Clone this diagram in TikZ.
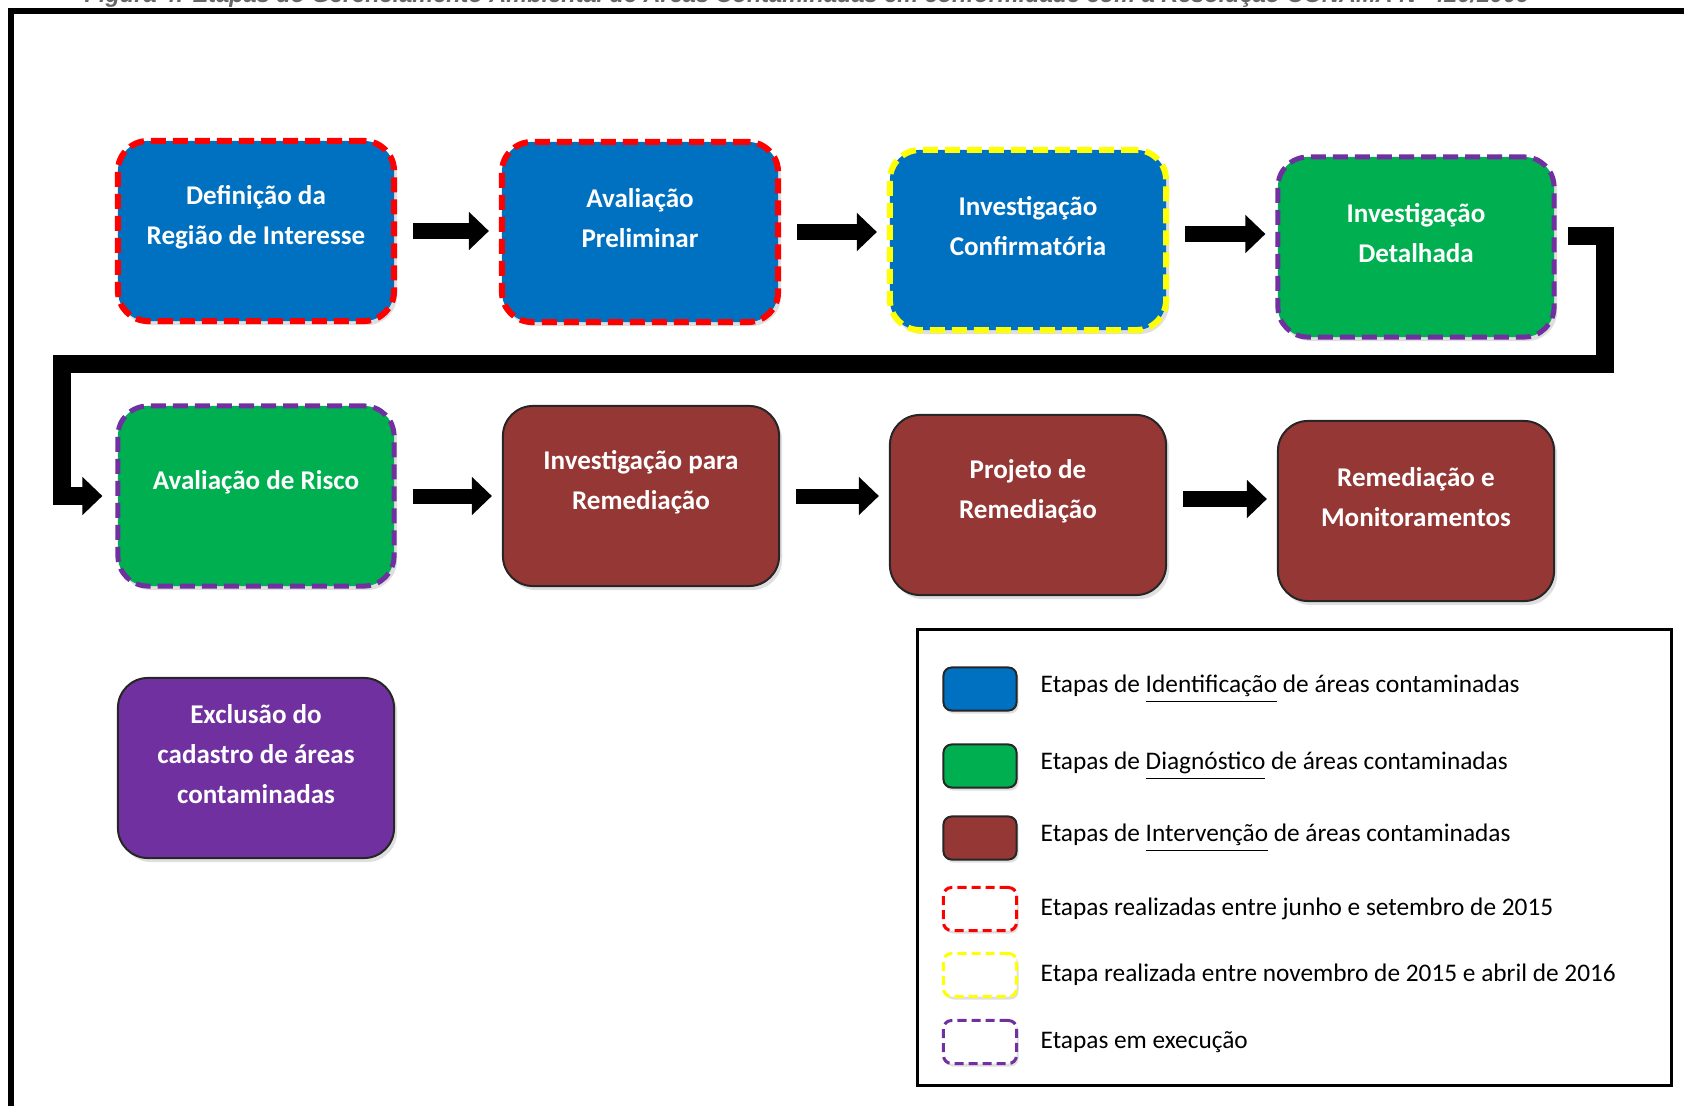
\documentclass[tikz,border=0pt]{standalone}
\usepackage{fontspec}
\setmainfont{Carlito}
\newfontfamily\titulofont{Liberation Sans}
\usetikzlibrary{arrows.meta,shadows}
\definecolor{azulid}{HTML}{0070C0}
\definecolor{verdediag}{HTML}{00B050}
\definecolor{vinhoint}{HTML}{953735}
\definecolor{roxoexc}{HTML}{7030A0}
\definecolor{vermelhoexe}{HTML}{FF0000}
\definecolor{amareloexe}{HTML}{FFFF00}
\definecolor{roxoexe}{HTML}{7030A0}

\begin{document}
\begin{tikzpicture}[x=0.01cm,y=-0.01cm,
    etapa/.style={rounded corners=0.3cm,minimum width=2.76cm,minimum height=1.8cm,
      drop shadow={opacity=0.25,shadow xshift=0.03cm,shadow yshift=-0.04cm}},
    etapatexto/.style={text=white,font=\bfseries\fontsize{7.7}{11.4}\selectfont,align=center,yshift=0.14cm},
    bordavermelha/.style={draw=vermelhoexe,line width=0.06cm,dash pattern=on 0.15cm off 0.07cm},
    bordaamarela/.style={draw=amareloexe,line width=0.06cm,dash pattern=on 0.15cm off 0.07cm},
    bordaroxa/.style={draw=roxoexe,line width=0.05cm,dash pattern=on 0.15cm off 0.07cm},
    bordafina/.style={draw=black!85,line width=0.02cm},
    seta/.style={line width=0.15cm,-{Triangle[length=0.2cm,width=0.37cm]},shorten <=0.16cm,shorten >=0.1cm},
    conector/.style={line width=0.18cm,-{Triangle[length=0.2cm,width=0.37cm]}},
    amostra/.style={rounded corners=0.08cm,minimum width=0.73cm,minimum height=0.43cm,
      drop shadow={opacity=0.25,shadow xshift=0.02cm,shadow yshift=-0.03cm}},
    legtracejada/.style={fill=white,line width=0.03cm,dash pattern=on 0.09cm off 0.05cm},
    legid/.style={fill=azulid,bordafina},
    legdiag/.style={fill=verdediag,bordafina},
    legint/.style={fill=vinhoint,bordafina},
    legjun/.style={legtracejada,draw=vermelhoexe},
    legnov/.style={legtracejada,draw=amareloexe},
    legexe/.style={legtracejada,draw=roxoexe},
    legtexto/.style={font=\fontsize{7.2}{8}\selectfont,anchor=west,inner sep=0pt}]
\useasboundingbox (0,0) rectangle (1684,1106);
\node[anchor=base west,inner sep=0pt,text=black!60] (titulo) at (84,3)
  {\resizebox{14.44cm}{!}{\titulofont\bfseries\itshape Figura 4: Etapas do Gerenciamento Ambiental de Áreas Contaminadas em conformidade com a Resolução CONAMA Nº 420/2009}};
\draw[line width=0.05cm] (11,1200) |- (1800,11);

        \node[etapa,fill=azulid,bordavermelha] (A) at (256,231) {};
        \node[etapatexto] (At) at (A) {Definição da\\Região de Interesse};
        \node[etapa,fill=azulid,bordavermelha] (B) at (640,232) {};
        \node[etapatexto] (Bt) at (B) {Avaliação\\Preliminar};
        \node[etapa,fill=azulid,bordaamarela] (C) at (1028,240) {};
        \node[etapatexto] (Ct) at (C) {Investigação\\Confirmatória};
        \node[etapa,fill=verdediag,bordaroxa] (D) at (1416,247) {};
        \node[etapatexto] (Dt) at (D) {Investigação\\Detalhada};
        \node[etapa,fill=verdediag,bordaroxa] (E) at (256,496) {};
        \node[etapatexto] (Et) at (E) {Avaliação de Risco};
        \node[etapa,fill=vinhoint,bordafina] (F) at (641,496) {};
        \node[etapatexto] (Ft) at (F) {Investigação para\\Remediação};
        \node[etapa,fill=vinhoint,bordafina] (G) at (1028,505) {};
        \node[etapatexto] (Gt) at (G) {Projeto de\\Remediação};
        \node[etapa,fill=vinhoint,bordafina] (H) at (1416,511) {};
        \node[etapatexto] (Ht) at (H) {Remediação e\\Monitoramentos};
        \node[etapa,fill=roxoexc,bordafina] (I) at (256,768) {};
        \node[etapatexto] (It) at (I) {Exclusão do\\cadastro de áreas\\contaminadas};

        \draw[seta] (A) -- (A -| B.west);
        \draw[seta] (B) -- (B -| C.west);
        \draw[seta] ([yshift=0.06cm]C.east) -- ([yshift=0.06cm]C.east -| D.west);
        \draw[seta] (E) -- (E -| F.west);
        \draw[seta] (F) -- (F -| G.west);
        \draw[seta] ([yshift=0.06cm]G.east) -- ([yshift=0.06cm]G.east -| H.west);
        \draw[conector,shorten <=0.11cm,shorten >=0.13cm] ([yshift=0.11cm]D.east) -| (1605,364) -| (62,496) -- (E.west);

        \node[draw,line width=0.03cm,minimum width=7.54cm,minimum height=4.56cm] (L) at (1294.5,857.5) {};
    \foreach \y/\estilo/\txt [count=\i] in {
        689/legid/{Etapas de \underline{Identificação} de áreas contaminadas},
        766/legdiag/{Etapas de \underline{Diagnóstico} de áreas contaminadas},
        838/legint/{Etapas de \underline{Intervenção} de áreas contaminadas},
        909/legjun/{Etapas realizadas entre junho e setembro de 2015},
        975/legnov/{Etapa realizada entre novembro de 2015 e abril de 2016},
        1042/legexe/{Etapas em execução}}{
        \node[amostra,\estilo] (S\i) at (980,\y) {};
        \node[legtexto] (T\i) at (1040,\y) {\txt};
    }
\end{tikzpicture}
\end{document}
